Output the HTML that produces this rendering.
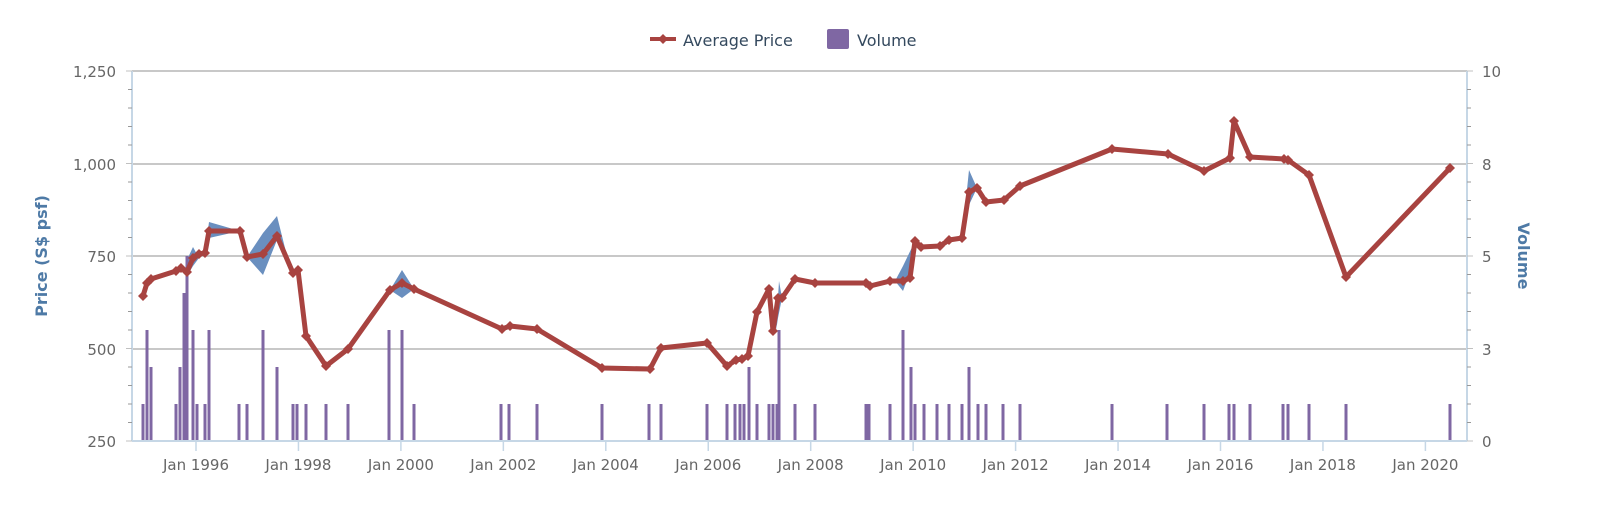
<!DOCTYPE html>
<html><head><meta charset="utf-8"><style>
html,body{margin:0;padding:0;background:#fff;}
svg{display:block;font-family:"DejaVu Sans","Liberation Sans",sans-serif;}
</style></head><body>
<svg id="c" width="1600" height="505" xmlns="http://www.w3.org/2000/svg">
<g id="grid"></g>
<g id="area"></g>
<g id="bars"></g>
<g id="line"></g>
<g id="axes"></g>
<text x="683" y="46" font-size="16" fill="#34495e">Average Price</text>
<line x1="650" y1="39" x2="676" y2="39" stroke="#a84340" stroke-width="4"/>
<path d="M663 34 L668 39 L663 44 L658 39Z" fill="#a84340"/>
<rect x="827" y="29" width="22" height="20" rx="2" fill="#7f67a3"/>
<text x="857" y="46" font-size="16" fill="#34495e">Volume</text>
<text transform="translate(47,256) rotate(-90)" text-anchor="middle" font-size="16" font-weight="bold" fill="#4e7aa6">Price (S$ psf)</text>
<text transform="translate(1518,256) rotate(90)" text-anchor="middle" font-size="16" font-weight="bold" fill="#4e7aa6">Volume</text>
</svg>
<script>
const NS="http://www.w3.org/2000/svg";
function el(p,t,a,txt){const e=document.createElementNS(NS,t);for(const k in a)e.setAttribute(k,a[k]);if(txt!==undefined)e.textContent=txt;document.getElementById(p).appendChild(e);return e;}
const L=132,R=1467,T=71,B=441;
[71,164,256,349].forEach(y=>el('grid','line',{x1:L,x2:R,y1:y,y2:y,stroke:'#c8c8c8','stroke-width':2}));
[['1,250',71],['1,000',164],['750',256],['500',349],['250',441]].forEach(([t,y])=>el('axes','text',{x:116,y:y+6,'text-anchor':'end','font-size':15,fill:'#666'},t));
[['10',71],['8',164],['5',256],['3',349],['0',441]].forEach(([t,y])=>el('axes','text',{x:1482,y:y+6,'font-size':15,fill:'#666'},t));
el('axes','line',{x1:L,x2:L,y1:T,y2:B,stroke:'#c6d7e6','stroke-width':2});
el('axes','line',{x1:R,x2:R,y1:T,y2:B,stroke:'#c6d7e6','stroke-width':2});
el('axes','line',{x1:L,x2:R,y1:B,y2:B,stroke:'#c6d7e6','stroke-width':2});
for(let i=0;i<=20;i++){const y=T+i*18.5;const mj=i%5==0;
 el('axes','line',{x1:mj?126:128,x2:L,y1:y,y2:y,stroke:mj?'#c0c0c0':'#999','stroke-width':1});
 el('axes','line',{x1:R,x2:mj?1473:1471,y1:y,y2:y,stroke:mj?'#c0c0c0':'#999','stroke-width':1});}
for(let k=0;k<13;k++){const x=196+k*102.45;
 el('axes','line',{x1:x,x2:x,y1:B,y2:B+10,stroke:'#c6d7e6','stroke-width':1.5});
 el('axes','text',{x:x,y:470,'text-anchor':'middle','font-size':15,fill:'#666'},'Jan '+(1996+2*k));}
const areas=["186,262 193,247 199,258 193,266 187,276","205,253 209,222 240,231 209,238","247,257 263,233 277,216 290,268 298,270 293,273 277,240 263,275","390,290 402,270 414,289 402,298","895,281 903,266 915,241 915,258 903,291","962,238 969,170 977,188 969,205","776,331 779,281 782,298 778,318"];
areas.forEach(p=>el('area','polygon',{points:p,fill:'#6a8fbf'}));
const bars=[[143,1],[147,3],[151,2],[176,1],[180,2],[184,4],[187,5],[193,3],[197,1],[205,1],[209,3],[239,1],[247,1],[263,3],[277,2],[293,1],[297,1],[306,1],[326,1],[348,1],[389,3],[402,3],[414,1],[501,1],[509,1],[537,1],[602,1],[649,1],[661,1],[707,1],[727,1],[735,1],[740,1],[744,1],[749,2],[757,1],[769,1],[773,1],[777,1],[779,3],[795,1],[815,1],[866,1],[869,1],[890,1],[903,3],[911,2],[915,1],[924,1],[937,1],[949,1],[962,1],[969,2],[978,1],[986,1],[1003,1],[1020,1],[1112,1],[1167,1],[1204,1],[1229,1],[1234,1],[1250,1],[1283,1],[1288,1],[1309,1],[1346,1],[1450,1]];
bars.forEach(([x,v])=>{const h=v*37;el('bars','rect',{x:x-1.5,y:B-h,width:3,height:h,fill:'#7f67a3'});});
const pts=[[143,296],[147,283],[151,279],[176,271],[181,268],[187,272],[193,258],[199,254],[205,253],[209,231],[240,231],[247,257],[263,254],[277,236],[293,273],[298,270],[306,336],[326,366],[348,349],[390,290],[402,283],[414,289],[502,329],[510,326],[537,329],[602,368],[650,369],[661,348],[707,343],[727,366],[736,360],[742,359],[748,356],[757,312],[769,289],[773,331],[778,298],[782,298],[795,279],[815,283],[866,283],[870,286],[890,281],[903,281],[910,278],[915,241],[921,247],[940,246],[949,240],[962,238],[969,192],[977,188],[986,202],[1004,200],[1020,186],[1112,149],[1168,154],[1204,171],[1230,158],[1234,121],[1250,157],[1284,159],[1288,160],[1309,175],[1346,277],[1450,168]];
el('line','polyline',{points:pts.map(p=>p.join(',')).join(' '),fill:'none',stroke:'#a84340','stroke-width':5,'stroke-linejoin':'round'});
pts.forEach(([x,y])=>el('line','path',{d:`M${x} ${y-5}L${x+5} ${y}L${x} ${y+5}L${x-5} ${y}Z`,fill:'#a84340'}));
</script>
</body></html>
